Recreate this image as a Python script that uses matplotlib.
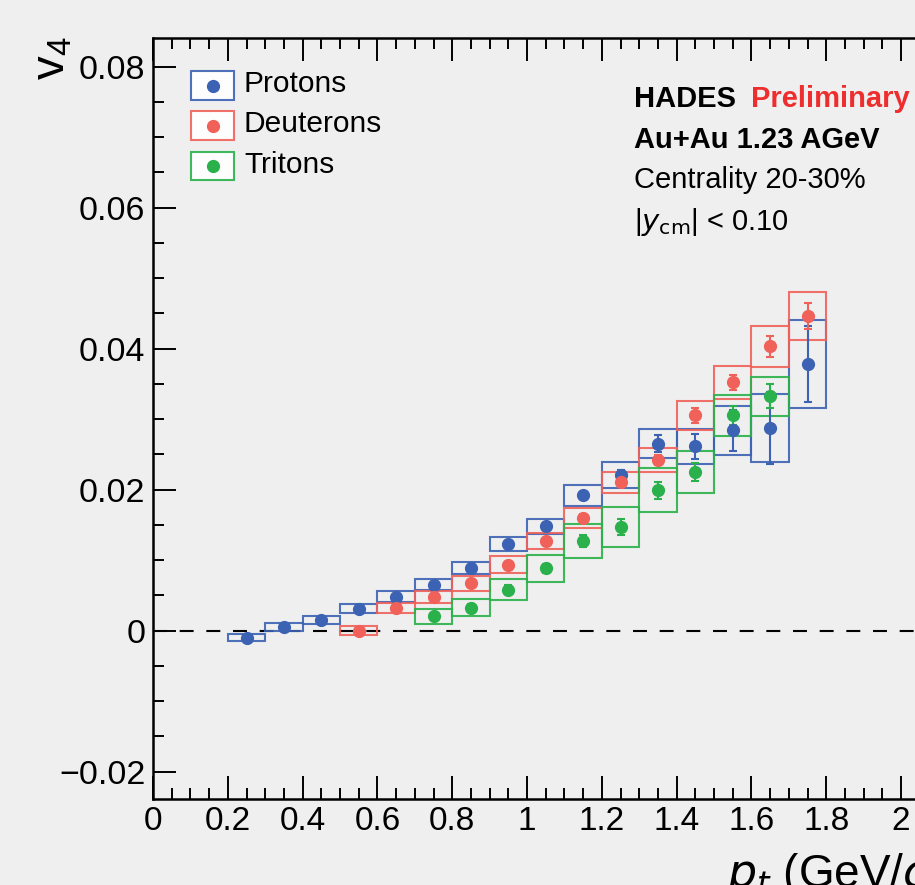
import matplotlib
matplotlib.use('Agg')
from matplotlib import pyplot as plt
from matplotlib.lines import Line2D
from matplotlib.patches import Rectangle
from matplotlib.ticker import MultipleLocator, FuncFormatter

plt.rcParams['font.family'] = ['Liberation Sans', 'DejaVu Sans']

# --- data ---
bin_width = 0.1

pt_p = [0.25, 0.35, 0.45, 0.55, 0.65, 0.75, 0.85, 0.95, 1.05, 1.15, 1.25, 1.35, 1.45, 1.55, 1.65, 1.75]
v4_p = [-0.0010, 0.0005, 0.0015, 0.0031, 0.0048, 0.0065, 0.0089, 0.0123, 0.0148, 0.0192,
        0.0220, 0.0265, 0.0261, 0.0284, 0.0287, 0.0378]
stat_p = [0.0002, 0.0002, 0.0002, 0.0002, 0.0002, 0.0003, 0.0003, 0.0003, 0.0004, 0.0005,
          0.0008, 0.0012, 0.0018, 0.0029, 0.0051, 0.0054]
sys_p = [0.00048, 0.00057, 0.00057, 0.00064, 0.00076, 0.00078, 0.00088, 0.0010, 0.00107, 0.00147,
         0.00185, 0.0021, 0.0025, 0.0035, 0.0048, 0.0062]

pt_d = [0.55, 0.65, 0.75, 0.85, 0.95, 1.05, 1.15, 1.25, 1.35, 1.45, 1.55, 1.65, 1.75]
v4_d = [0.0000, 0.0032, 0.0047, 0.0067, 0.0093, 0.0127, 0.0160, 0.0210, 0.0242, 0.0305,
        0.0352, 0.0403, 0.0446]
stat_d = [0.0002, 0.0003, 0.0003, 0.0003, 0.0004, 0.0004, 0.0005, 0.0006, 0.0007, 0.0010,
          0.0011, 0.0015, 0.0019]
sys_d = [0.00057, 0.0007, 0.00085, 0.00107, 0.0012, 0.0012, 0.0014, 0.0015, 0.0017, 0.0020,
         0.0023, 0.0029, 0.0034]

pt_t = [0.75, 0.85, 0.95, 1.05, 1.15, 1.25, 1.35, 1.45, 1.55, 1.65]
v4_t = [0.0020, 0.0032, 0.0058, 0.0088, 0.0127, 0.0147, 0.0199, 0.0225, 0.0305, 0.0332]
stat_t = [0.0004, 0.0005, 0.0006, 0.0007, 0.0008, 0.0011, 0.0012, 0.0013, 0.0013, 0.0017]
sys_t = [0.00107, 0.0012, 0.0015, 0.0019, 0.0024, 0.0028, 0.0031, 0.0030, 0.0029, 0.0028]

species = [
    ('Protons', pt_p, v4_p, stat_p, sys_p, '#3c62b3'),
    ('Deuterons', pt_d, v4_d, stat_d, sys_d, '#f0615a'),
    ('Tritons', pt_t, v4_t, stat_t, sys_t, '#2bb14b'),
]

W, H = 915, 885
bg = '#efefef'


def fx(px):
    return px / W


def fy(py):
    return 1 - py / H


fig = plt.figure(figsize=(W / 100, H / 100), dpi=100, facecolor=bg)
# axes run past the right edge, like the cropped original
ax = fig.add_axes([fx(153), fy(799), (2.2 * 374.05) / W, (799 - 38.3) / H])
ax.set_facecolor(bg)
ax.set_xlim(0, 2.2)
ax.set_ylim(-0.0239, 0.0840)

ax.axhline(0, color='black', lw=1.5, linestyle=(0, (6.7, 6.1)), zorder=1)

for name, pt, v4, stat, sys, c in species:
    lo = [v - s for v, s in zip(v4, sys)]
    hi = [2 * s for s in sys]
    ax.bar(pt, hi, bottom=lo, width=bin_width, fill=False, edgecolor=c,
           linewidth=1.5, alpha=0.9, zorder=2)
    ax.errorbar(pt, v4, yerr=stat, fmt='o', color=c, markersize=8.5, elinewidth=1.5,
                capsize=3, capthick=1.5, zorder=3)

# ticks in ROOT style
ax.xaxis.set_major_locator(MultipleLocator(0.2))
ax.xaxis.set_minor_locator(MultipleLocator(0.05))
ax.yaxis.set_major_locator(MultipleLocator(0.02))
ax.yaxis.set_minor_locator(MultipleLocator(0.005))
ax.tick_params(which='both', direction='in', top=True, right=True, width=1.4, color='black')
ax.tick_params(which='major', length=16.5)
ax.tick_params(which='minor', length=8)
ax.tick_params(axis='y', labelsize=24.5, pad=5.5)
ax.tick_params(axis='x', labelsize=24, pad=5)
ax.xaxis.set_major_formatter(FuncFormatter(lambda v, p: '%g' % round(v, 3)))
ax.yaxis.set_major_formatter(FuncFormatter(
    lambda v, p: '0' if abs(v) < 1e-9 else ('%.2f' % v).replace('-', '\u2212')))
for s in ax.spines.values():
    s.set_linewidth(1.8)

# axis titles (both cut by the frame edge as in the original)
fig.text(fx(75), fy(37), r'$\mathregular{v_{4}}$', fontsize=34, rotation=90,
         ha='right', va='top')
fig.text(fx(727), fy(887), r'$p_{t}$ (GeV/$c$)', fontsize=33, ha='left', va='baseline')

# legend drawn by hand
for i, (name, pt, v4, stat, sys, c) in enumerate(species):
    top = 71 + 40.3 * i
    fig.patches.append(Rectangle((fx(190.7), fy(top + 28.5)), fx(43.6), 28.5 / H,
                                 transform=fig.transFigure, facecolor='white',
                                 edgecolor=c, linewidth=1.5, alpha=0.9))
    fig.lines.append(Line2D([fx(212.5)], [fy(top + 14.5)], transform=fig.transFigure,
                            marker='o', markersize=8.5, color=c, linestyle='none'))
    fig.text(fx(244), fy(top + 21), name, fontsize=21.5, va='baseline', ha='left')

# labels
fig.text(fx(634), fy(107), 'HADES', fontsize=21, fontweight='bold', va='baseline')
fig.text(fx(751), fy(107), 'Preliminary', fontsize=21, fontweight='bold',
         color='#ee2e2e', va='baseline')
fig.text(fx(634), fy(148), 'Au+Au 1.23 AGeV', fontsize=21, fontweight='bold', va='baseline')
fig.text(fx(634), fy(188), 'Centrality 20-30%', fontsize=21, va='baseline')
fig.text(fx(634), fy(230), r'|$y_{\mathrm{cm}}$| < 0.10', fontsize=21, va='baseline')

fig.savefig('out.png', dpi=100, facecolor=bg)
